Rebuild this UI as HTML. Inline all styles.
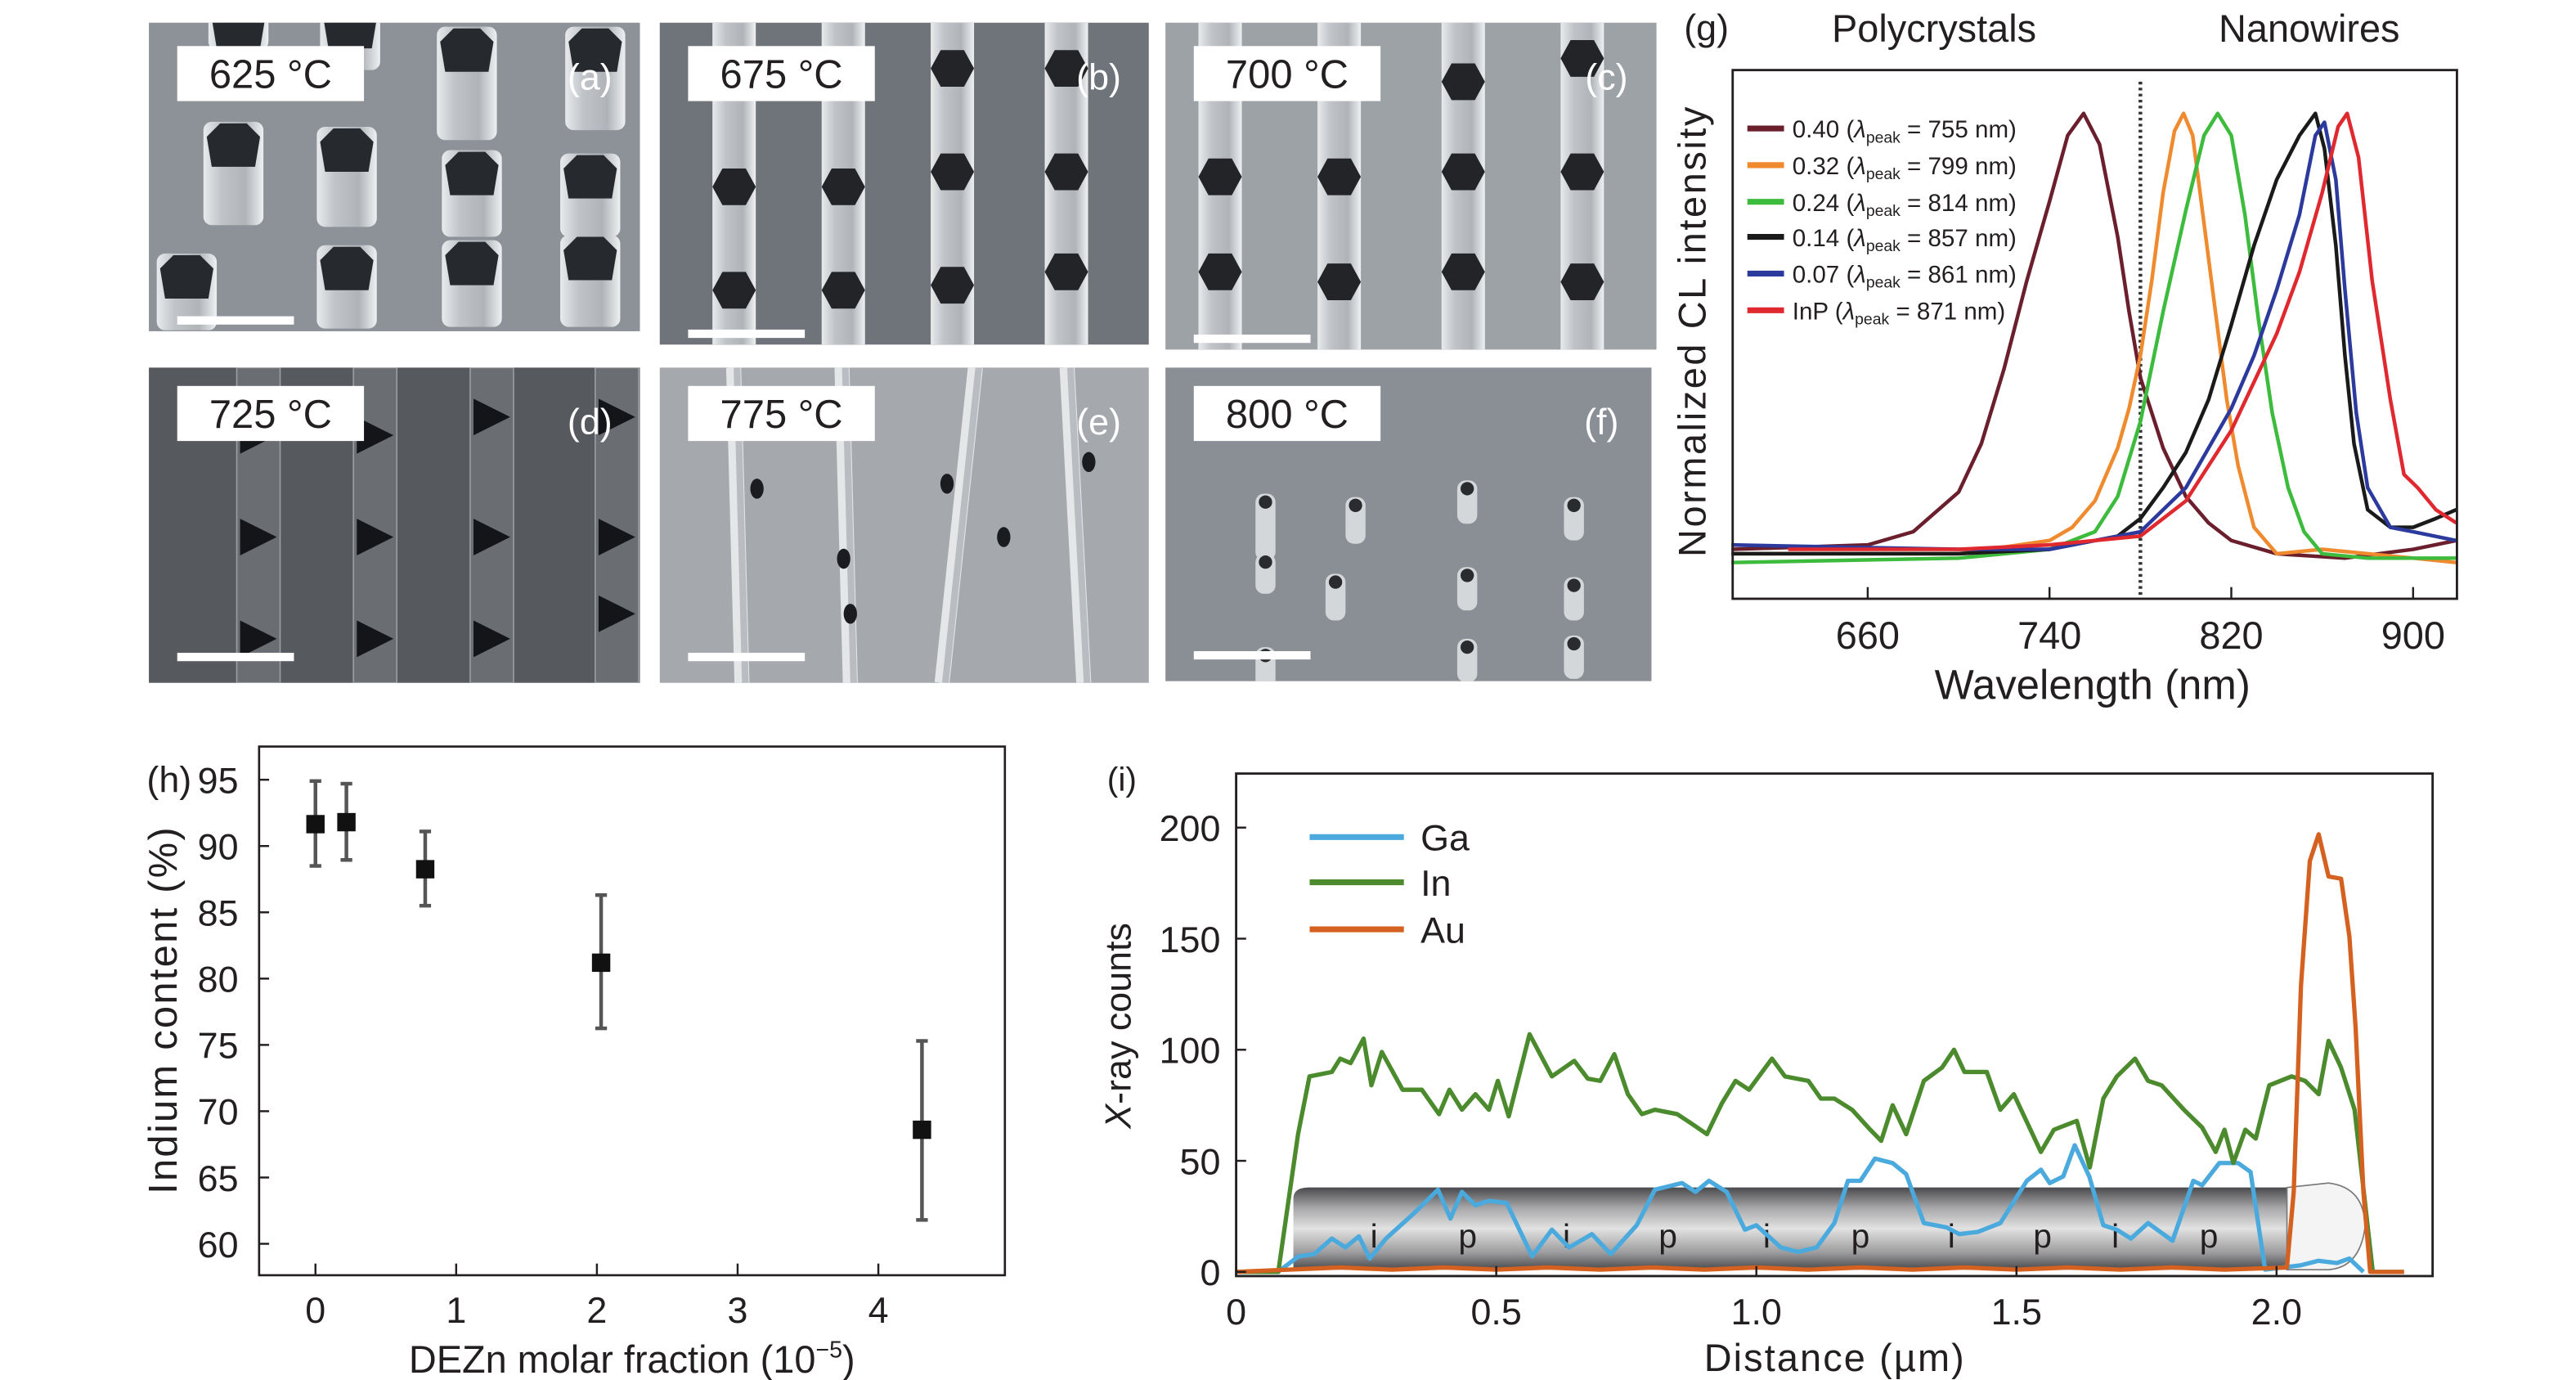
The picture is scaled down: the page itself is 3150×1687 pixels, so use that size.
<!DOCTYPE html>
<html><head><meta charset="utf-8"><style>
html,body{margin:0;padding:0;background:#fff;width:3150px;height:1687px;overflow:hidden}
svg{display:block}
text{font-family:"Liberation Sans Narrow","Liberation Sans",sans-serif;fill:#231f20}
.w{font-family:"Liberation Sans",sans-serif}
</style></head><body>
<svg id="fig" xmlns="http://www.w3.org/2000/svg" width="3150" height="1687" viewBox="0 0 1545 827.4">
<defs>
<linearGradient id="nw" x1="0" y1="0" x2="0" y2="1">
<stop offset="0" stop-color="#4a4a4c"/><stop offset="0.25" stop-color="#a8a8aa"/><stop offset="0.5" stop-color="#e2e2e2"/><stop offset="0.8" stop-color="#9a9a9c"/><stop offset="1" stop-color="#4a4a4c"/>
</linearGradient>
<linearGradient id="colL" x1="0" y1="0" x2="1" y2="0">
<stop offset="0" stop-color="#e8eaec"/><stop offset="0.3" stop-color="#c0c4c8"/><stop offset="0.7" stop-color="#b0b4b8"/><stop offset="1" stop-color="#eef0f2"/>
</linearGradient>
</defs>
<g id="sem"></g>
<g id="pg"></g>
<g id="ph"></g>
<g id="pi"></g>
</svg>
<script>
// ---------- Panel g data ----------
const gTicks = [660, 740, 820, 900];
const gLegend = ["0.40", "0.32", "0.24", "0.14", "0.07", "InP"];
const gPeaks = [755, 799, 814, 857, 861, 871];
const gColors = ["#6b1f2d", "#ef8a2e", "#3dbb3d", "#1a1a1a", "#2b3a9c", "#e0282f"];
const gS040 = [[600,0.01],[660,0.02],[680,0.05],[700,0.14],[710,0.25],[720,0.42],[730,0.62],[740,0.8],[748,0.95],[755,1.0],[762,0.93],[770,0.72],[775,0.55],[780,0.4],[790,0.24],[800,0.13],[810,0.07],[820,0.03],[840,0.0],[870,-0.01],[900,0.01],[919,0.03]];
const gS032 = [[600,0.0],[700,0.0],[740,0.03],[750,0.06],[760,0.12],[770,0.24],[775,0.33],[780,0.45],[785,0.62],[790,0.82],[795,0.96],[799,1.0],[803,0.95],[808,0.75],[813,0.55],[818,0.35],[823,0.2],[830,0.06],[840,0.0],[860,0.01],[900,-0.01],[919,-0.02]];
const gS024 = [[600,-0.02],[700,-0.01],[740,0.01],[760,0.05],[770,0.13],[780,0.3],[790,0.55],[800,0.78],[808,0.95],[814,1.0],[820,0.95],[826,0.77],[832,0.53],[838,0.32],[845,0.15],[852,0.05],[860,0.0],[880,-0.01],[919,-0.01]];
const gS014 = [[600,0.0],[700,0.0],[740,0.01],[770,0.04],[780,0.08],[790,0.15],[800,0.23],[810,0.35],[820,0.52],[830,0.7],[840,0.85],[850,0.95],[857,1.0],[861,0.92],[866,0.7],[870,0.45],[874,0.25],[880,0.1],[890,0.06],[900,0.06],[910,0.08],[919,0.1]];
const gS007 = [[600,0.02],[700,0.01],[740,0.01],[780,0.05],[800,0.15],[820,0.33],[830,0.45],[840,0.6],[850,0.77],[857,0.95],[861,0.98],[866,0.85],[870,0.6],[875,0.32],[880,0.15],[890,0.06],[900,0.05],[919,0.03]];
const gSInP = [[625,0.01],[700,0.01],[740,0.02],[780,0.04],[800,0.12],[820,0.28],[840,0.5],[850,0.64],[860,0.82],[867,0.97],[871,1.0],[876,0.9],[882,0.62],[890,0.35],[896,0.18],[902,0.15],[910,0.1],[919,0.07]];
const gSeries = [gS040, gS032, gS024, gS014, gS007, gSInP];
const gDivider = 780;

// ---------- Panel h data ----------
const hXTicks = [0, 1, 2, 3, 4];
const hYTicks = [60, 65, 70, 75, 80, 85, 90, 95];
const hX = [0, 0.22, 0.78, 2.03, 4.31];
const hY = [91.65, 91.8, 88.25, 81.2, 68.6];
const hHi = [94.9, 94.7, 91.1, 86.3, 75.3];
const hLo = [88.5, 88.95, 85.5, 76.25, 61.8];

// ---------- Panel i data ----------
const iXTicks = [0, 0.5, 1.0, 1.5, 2.0];
const iXLabels = ["0", "0.5", "1.0", "1.5", "2.0"];
const iYTicks = [0, 50, 100, 150, 200];
const iIn = [[0,0],[0.081,0],[0.119,62],[0.141,88],[0.184,90],[0.2,96],[0.22,94],[0.245,105],[0.26,84],[0.28,99],[0.32,82],[0.357,82],[0.39,71],[0.41,82],[0.434,73],[0.46,80],[0.486,73],[0.503,86],[0.524,70],[0.564,107],[0.607,88],[0.65,95],[0.676,87],[0.7,86],[0.727,98],[0.753,80],[0.78,71],[0.805,73],[0.848,71],[0.874,67],[0.905,62],[0.934,76],[0.96,86],[0.986,82],[1.03,96],[1.055,88],[1.1,86],[1.124,78],[1.15,78],[1.184,73],[1.219,64],[1.24,59],[1.262,75],[1.288,62],[1.322,86],[1.357,92],[1.38,100],[1.4,90],[1.443,90],[1.469,73],[1.495,80],[1.547,54],[1.572,64],[1.616,68],[1.641,47],[1.667,78],[1.693,88],[1.728,96],[1.753,86],[1.779,84],[1.822,73],[1.857,65],[1.883,54],[1.9,64],[1.917,49],[1.94,64],[1.96,60],[1.986,84],[2.029,88],[2.055,86],[2.081,80],[2.1,104],[2.124,92],[2.15,73],[2.185,0],[2.245,0]];
const iGa = [[0.08,0],[0.12,7],[0.15,8],[0.184,15],[0.21,11],[0.236,16],[0.257,6],[0.288,15],[0.34,26],[0.388,37],[0.412,24],[0.434,36],[0.46,30],[0.486,32],[0.52,31],[0.569,7],[0.607,19],[0.64,11],[0.684,17],[0.72,8],[0.77,21],[0.805,37],[0.857,40],[0.883,36],[0.909,41],[0.943,36],[0.978,19],[1.0,21],[1.047,11],[1.08,9],[1.116,11],[1.15,22],[1.176,41],[1.2,41],[1.228,51],[1.262,49],[1.288,44],[1.322,22],[1.366,20],[1.39,17],[1.426,18],[1.469,22],[1.52,41],[1.547,46],[1.564,40],[1.59,43],[1.612,57],[1.64,43],[1.667,21],[1.693,19],[1.72,15],[1.753,22],[1.8,14],[1.84,41],[1.857,39],[1.89,49],[1.926,49],[1.95,45],[1.978,1],[2.012,2],[2.047,3],[2.08,5],[2.116,4],[2.14,6],[2.167,0]];
const iAu = [[0,0],[0.1,1],[0.2,2],[0.3,1],[0.4,2],[0.5,1],[0.6,2],[0.7,1],[0.8,2],[0.9,1],[1.0,2],[1.1,1],[1.2,2],[1.3,1],[1.4,2],[1.5,1],[1.6,2],[1.7,1],[1.8,2],[1.9,1],[2.02,2],[2.033,36],[2.047,129],[2.064,185],[2.081,197],[2.1,178],[2.124,177],[2.14,151],[2.152,110],[2.167,36],[2.18,0],[2.245,0]];
const iNames = ["Ga", "In", "Au"];
const iColors = ["#4aa9dd", "#4b8b2d", "#d4611f"];
const iSegLabels = ["i","p","i","p","i","p","i","p","i","p"];
const iSegPos = [0.265, 0.445, 0.635, 0.83, 1.02, 1.2, 1.375, 1.55, 1.69, 1.87];

const NS = "http://www.w3.org/2000/svg";
function mk(parent, tag, attrs, txt) {
  const e = document.createElementNS(NS, tag);
  for (const k in attrs) e.setAttribute(k, attrs[k]);
  if (txt !== undefined) e.textContent = txt;
  parent.appendChild(e);
  return e;
}
const pathOf = (pts, fx, fy) => pts.map((p, i) => (i ? "L" : "M") + fx(p[0]).toFixed(2) + " " + fy(p[1]).toFixed(2)).join(" ");

// ---------- SEM panels ----------
const sem = document.getElementById("sem");
const panels = [
  {x:89.3,y:13.6,w:294.5,h:185,bg:"#8d9298",t:"625 °C",l:"(a)",k:"a"},
  {x:395.7,y:13.6,w:293.3,h:193,bg:"#6f747a",t:"675 °C",l:"(b)",k:"b"},
  {x:699,y:13.6,w:294.5,h:196,bg:"#9da2a7",t:"700 °C",l:"(c)",k:"c"},
  {x:89.3,y:220.4,w:294.5,h:189,bg:"#56595e",t:"725 °C",l:"(d)",k:"d"},
  {x:395.7,y:220.4,w:293.3,h:189,bg:"#a5a9ad",t:"775 °C",l:"(e)",k:"e"},
  {x:699,y:220.4,w:291.5,h:188,bg:"#8a8f95",t:"800 °C",l:"(f)",k:"f"}
];
panels.forEach(p => {
  const g = mk(sem, "g", {});
  
  
  const cid = "clip" + p.k;
  const cp = mk(g, "clipPath", {id:cid});
  mk(cp, "rect", {x:p.x, y:p.y, width:p.w, height:p.h});
  mk(g, "rect", {x:p.x, y:p.y, width:p.w, height:p.h, fill:p.bg});
  const clip = mk(g, "g", {"clip-path":"url(#"+cid+")"});
  if (p.k === "a") {
    [[143,2,28],[210,2,40],[280,16,68],[357,16,62],[140,73,62],[208,76,60],[283,90,52],[354,92,50],[112,152,46],[208,147,50],[283,144,52],[354,141,55]].forEach(c => {
      const cx = c[0], top = c[1], hh = c[2];
      mk(clip, "rect", {x:cx-18, y:top, width:36, height:hh, rx:5, fill:"url(#colL)"});
      mk(clip, "polygon", {points:`${cx-16},${top+9} ${cx-8},${top+1} ${cx+8},${top+1} ${cx+16},${top+9} ${cx+13},${top+27} ${cx-13},${top+27}`, fill:"#26292d"});
    });
  } else if (p.k === "b" || p.k === "c") {
    const cols = p.k === "b" ? [440.3,505.8,571.2,639.6] : [731.8,803.2,877.6,949];
    const holes = p.k === "b" ? [[112,174],[112,174],[41,103,171],[41,103,163]] : [[106,163],[106,169],[49,103,163],[35,103,169]];
    cols.forEach((cx, i) => {
      mk(clip, "rect", {x:cx-13, y:p.y, width:26, height:p.h, fill:"url(#colL)"});
      holes[i].forEach(hy => mk(clip, "polygon", {points:`${cx-13},${hy} ${cx-7},${hy-11} ${cx+7},${hy-11} ${cx+13},${hy} ${cx+7},${hy+11} ${cx-7},${hy+11}`, fill:"#222428"}));
    });
  } else if (p.k === "d") {
    [155,225,295,370].forEach((cx, i) => {
      mk(clip, "rect", {x:cx-13, y:p.y, width:26, height:p.h, fill:"#6a6e73", stroke:"#9a9ea2", "stroke-width":0.8});
      [[261,322,383],[261,322,383],[250,322,383],[250,322,368]][i].forEach(hy => mk(clip, "polygon", {points:`${cx-11},${hy-11} ${cx+11},${hy} ${cx-11},${hy+11}`, fill:"#141518"}));
    });
  } else if (p.k === "e") {
    [[440,445],[505,510],[585,565],[640,650]].forEach(c => {
      mk(clip, "line", {x1:c[0], y1:p.y, x2:c[1], y2:p.y+p.h, stroke:"#e4e6e8", "stroke-width":9});
      mk(clip, "line", {x1:c[0]+2, y1:p.y, x2:c[1]+2, y2:p.y+p.h, stroke:"#b9bdc1", "stroke-width":4});
    });
    [[454,293],[510,368],[568,290],[653,277],[602,322],[506,335]].forEach(h => mk(clip, "ellipse", {cx:h[0], cy:h[1], rx:4, ry:6, fill:"#1b1c1f"}));
  } else {
    [[759,322,26],[813,312,14],[880,300,12],[944,310,12],[759,342,10],[801,358,14],[880,352,12],[944,358,12],[759,400,12],[880,395,12],[944,393,12]].forEach(c => {
      mk(clip, "rect", {x:c[0]-6, y:c[1]-c[2], width:12, height:c[2]+14, rx:5, fill:"#d4d7da"});
      mk(clip, "ellipse", {cx:c[0], cy:c[1]-c[2]+5, rx:4, ry:4, fill:"#2a2b2e"});
    });
  }
  const lb = mk(g, "g", {});
  
  
  mk(lb, "rect", {x:p.x+17, y:p.y+(p.k<"d"?14:11), width:112, height:33, fill:"#fff"});
  mk(lb, "text", {x:p.x+73, y:p.y+(p.k<"d"?39:36), "font-size":24, "text-anchor":"middle"}, p.t);
  const pl = mk(g, "text", {x:p.x+p.w-30, y:p.y+40, "font-size":22, "text-anchor":"middle", style:"fill:#fff"}, p.l);
  
  
  const sb = mk(g, "rect", {x:p.x+17, y:p.y+p.h-(p.k<"d"?7:16)-2, width:70, height:5, fill:"#fff"});
  
  
});

// ---------- Panel g ----------
(function(){
  const G = document.getElementById("pg");
  const fx = v => 1120.2 + (v - 660) * 1.3629, fy = v => 332 - v * 264;
  const L = 1039.2, R = 1473.6, T = 42, B = 359;
  let e;
  e = mk(G, "text", {x:1010, y:24, "font-size":22}, "(g)");  
  e = mk(G, "text", {x:1160, y:25, "font-size":23, "text-anchor":"middle"}, "Polycrystals");  
  e = mk(G, "text", {x:1385, y:25, "font-size":23, "text-anchor":"middle"}, "Nanowires");  
  e = mk(G, "line", {x1:fx(gDivider), y1:49, x2:fx(gDivider), y2:B, stroke:"#333", "stroke-width":2.2, "stroke-dasharray":"1.6 2"});  
  gSeries.forEach((s, i) => {
    e = mk(G, "path", {d:pathOf(s, fx, fy), fill:"none", stroke:gColors[i], "stroke-width":2.2, "stroke-linejoin":"round"});
    
    
  });
  e = mk(G, "rect", {x:L, y:T, width:R-L, height:B-T, fill:"none", stroke:"#231f20", "stroke-width":1.4});  
  gTicks.forEach(t => {
    e = mk(G, "line", {x1:fx(t), y1:B, x2:fx(t), y2:B-7, stroke:"#231f20", "stroke-width":1.2});  
    e = mk(G, "text", {x:fx(t), y:389, "font-size":23, "text-anchor":"middle"}, String(t));  
  });
  e = mk(G, "text", {x:1255, y:419, "font-size":25, "text-anchor":"middle"}, "Wavelength (nm)");  
  e = mk(G, "text", {class:"w", x:0, y:0, "font-size":23, "text-anchor":"middle", textLength:270, transform:"translate(1023,199) rotate(-90)"}, "Normalized CL intensity");  
  const ly = [77, 99, 121, 142, 164, 186];
  gLegend.forEach((n, i) => {
    const lg = mk(G, "g", {});
    
    
    mk(lg, "line", {x1:1048, y1:ly[i], x2:1070, y2:ly[i], stroke:gColors[i], "stroke-width":3.5});
    const t = mk(lg, "text", {x:1075, y:ly[i]+5.5, "font-size":14.5});
    t.appendChild(document.createTextNode(n + " ("));
    mk(t, "tspan", {"font-style":"italic"}, "λ");
    mk(t, "tspan", {"font-size":9.5, dy:3}, "peak");
    mk(t, "tspan", {dy:-3}, " = " + gPeaks[i] + " nm)");
  });
})();

// ---------- Panel h ----------
(function(){
  const G = document.getElementById("ph");
  const fx = v => 189.2 + v * 84.4, fy = v => 467.5 + (95 - v) * 7.95;
  const L = 155.4, R = 602.7, T = 447.6, B = 764.6;
  let e;
  e = mk(G, "rect", {x:L, y:T, width:R-L, height:B-T, fill:"none", stroke:"#231f20", "stroke-width":1.3});  
  hXTicks.forEach(t => {
    e = mk(G, "line", {x1:fx(t), y1:B, x2:fx(t), y2:B-7, stroke:"#231f20", "stroke-width":1.2});  
    e = mk(G, "text", {x:fx(t), y:793, "font-size":22, "text-anchor":"middle"}, String(t));  
  });
  hYTicks.forEach(t => {
    e = mk(G, "line", {x1:L, y1:fy(t), x2:L+6, y2:fy(t), stroke:"#231f20", "stroke-width":1.2});  
    e = mk(G, "text", {x:143, y:fy(t)+8, "font-size":22, "text-anchor":"end"}, String(t));  
  });
  e = mk(G, "text", {x:88, y:475, "font-size":22}, "(h)");  
  const xt = mk(G, "text", {x:379, y:823, "font-size":23, "text-anchor":"middle"});
   
  xt.appendChild(document.createTextNode("DEZn molar fraction (10"));
  mk(xt, "tspan", {"font-size":14, dy:-9}, "−5");
  mk(xt, "tspan", {dy:9}, ")");
  e = mk(G, "text", {class:"w", x:0, y:0, "font-size":24, "text-anchor":"middle", textLength:220, transform:"translate(106,606) rotate(-90)"}, "Indium content (%)");  
  hX.forEach((x, i) => {
    const cx = fx(x);
    e = mk(G, "line", {x1:cx, y1:fy(hHi[i]), x2:cx, y2:fy(hLo[i]), stroke:"#555", "stroke-width":2.2});  
    mk(G, "line", {x1:cx-3.5, y1:fy(hHi[i]), x2:cx+3.5, y2:fy(hHi[i]), stroke:"#555", "stroke-width":2.2});
    mk(G, "line", {x1:cx-3.5, y1:fy(hLo[i]), x2:cx+3.5, y2:fy(hLo[i]), stroke:"#555", "stroke-width":2.2});
    e = mk(G, "rect", {x:cx-5.5, y:fy(hY[i])-5.5, width:11, height:11, fill:"#111"});  
  });
})();

// ---------- Panel i ----------
(function(){
  const G = document.getElementById("pi");
  const fx = v => 741.4 + v * 312, fy = v => 762.6 - v * 1.332;
  const L = 741.4, R = 1459, T = 463.8, B = 765.1;
  let e;
  const wire = mk(G, "g", {});
   
  mk(wire, "path", {d:`M${fx(0.11)} ${fy(1)} L${fx(0.11)} ${fy(33)} Q${fx(0.11)} ${fy(38)} ${fx(0.14)} ${fy(38)} L${fx(2.02)} ${fy(38)} L${fx(2.02)} ${fy(1)} Z`, fill:"url(#nw)"});
  mk(wire, "path", {d:`M${fx(2.02)} ${fy(38)} L${fx(2.1)} ${fy(40)} Q${fx(2.17)} ${fy(38)} ${fx(2.17)} ${fy(20)} Q${fx(2.16)} ${fy(2)} ${fx(2.1)} ${fy(1)} L${fx(2.02)} ${fy(1)} Z`, fill:"#f4f4f4", stroke:"#777", "stroke-width":0.8});
  iSegLabels.forEach((s, i) => {
    e = mk(G, "text", {x:fx(iSegPos[i]), y:748, "font-size":20, "text-anchor":"middle"}, s);
     
  });
  [iGa, iIn, iAu].forEach((s, i) => {
    e = mk(G, "path", {d:pathOf(s, fx, fy), fill:"none", stroke:iColors[i], "stroke-width":2.6, "stroke-linejoin":"round"});
    
    
  });
  e = mk(G, "rect", {x:L, y:T, width:R-L, height:B-T, fill:"none", stroke:"#231f20", "stroke-width":1.4});  
  iXTicks.forEach((t, k) => {
    e = mk(G, "line", {x1:fx(t), y1:B, x2:fx(t), y2:B-6, stroke:"#231f20", "stroke-width":1.2});  
    e = mk(G, "text", {x:fx(t), y:794, "font-size":22, "text-anchor":"middle"}, iXLabels[k]);  
  });
  iYTicks.forEach(t => {
    e = mk(G, "line", {x1:L, y1:fy(t), x2:L+6, y2:fy(t), stroke:"#231f20", "stroke-width":1.2});  
    e = mk(G, "text", {x:732, y:fy(t)+8, "font-size":22, "text-anchor":"end"}, String(t));  
  });
  e = mk(G, "text", {x:664, y:474, "font-size":20}, "(i)");  
  e = mk(G, "text", {x:1100, y:822, "font-size":23, "text-anchor":"middle", textLength:156}, "Distance (µm)");  
  const yt = mk(G, "text", {class:"w", x:0, y:0, "font-size":22, "text-anchor":"middle", transform:"translate(678,615) rotate(-90)"});
   
  mk(yt, "tspan", {"font-style":"italic"}, "X");
  yt.appendChild(document.createTextNode("-ray counts"));
  const ly = [501.9, 529, 557.2];
  iNames.forEach((n, i) => {
    const lg = mk(G, "g", {});
    
    
    mk(lg, "line", {x1:785.5, y1:ly[i], x2:842, y2:ly[i], stroke:iColors[i], "stroke-width":3.5});
    mk(lg, "text", {x:852, y:ly[i]+8, "font-size":22}, n);
  });
})();
</script>
</body></html>
